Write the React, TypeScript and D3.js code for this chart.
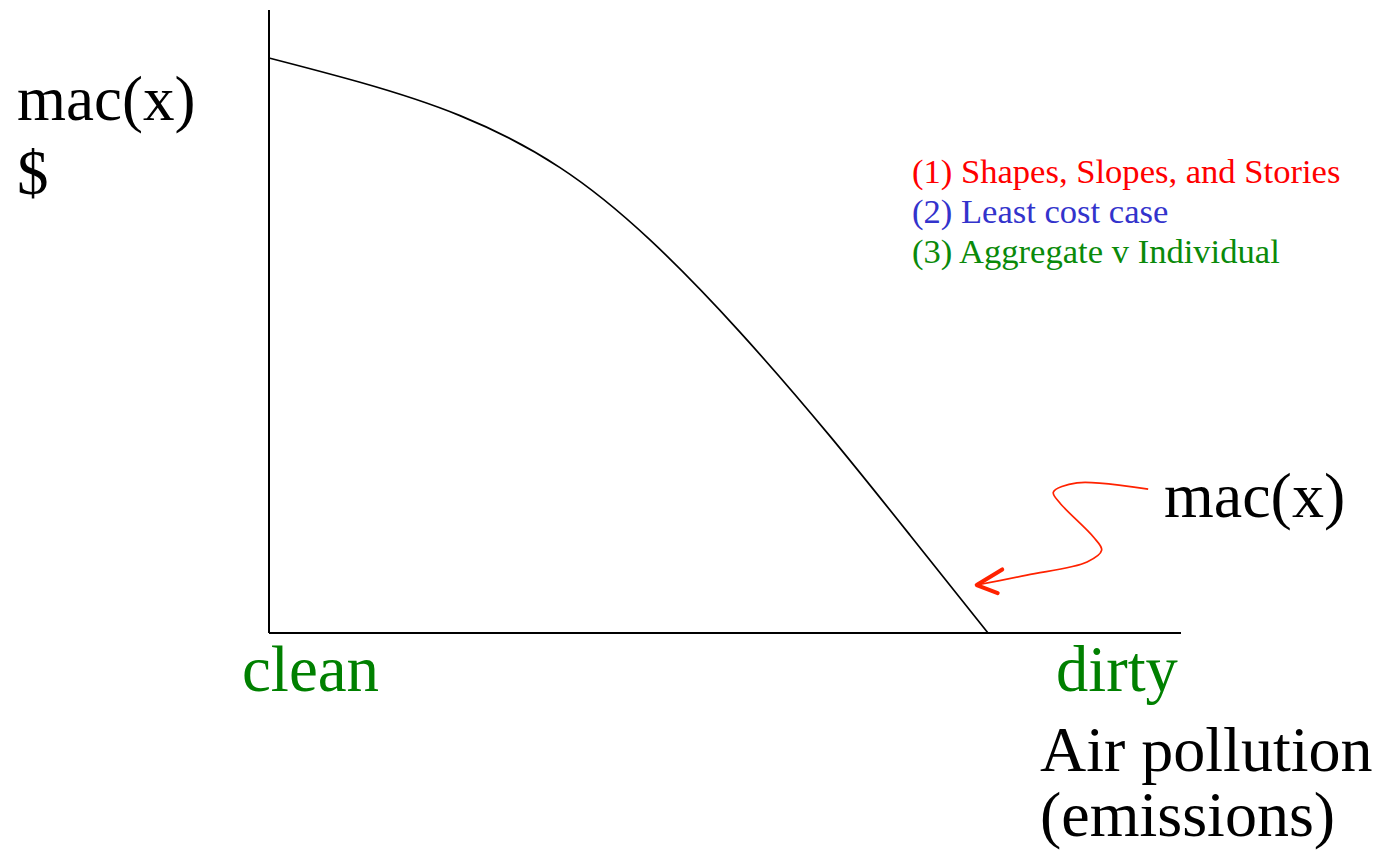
import React from "react";
import * as d3 from "d3";

// Marginal abatement cost curve (abstract units: emissions 0..100, $ 0..100)
const macX = [0, 9.98, 20.94, 31.91, 41.78, 51.64, 61.51, 70.29, 78.84];
const macY = [92.3, 88.4, 83.05, 74.7, 63.1, 48.3, 31.6, 15.7, 0];

// Annotation arrow pointing at the curve
const arrowX = [96.4, 88.6, 86.0, 86.7, 90.4, 91.3, 89.7, 83.1, 77.6];
const arrowY = [23.1, 24.1, 22.6, 20.9, 15.4, 13.3, 11.4, 9.3, 7.7];
const arrowHeadX = [80.4, 77.6, 79.9];
const arrowHeadY = [10.2, 7.7, 6.4];

const legendItems = [
  "(1) Shapes, Slopes, and Stories",
  "(2) Least cost case",
  "(3) Aggregate v Individual",
];
const legendColors = ["#ff0000", "#3333cc", "#0a8a0a"];

const W = 1381;
const H = 862;
const FONT = "'Liberation Serif', 'Times New Roman', serif";

export default function App() {
  const x = d3.scaleLinear().domain([0, 100]).range([269, 1181]);
  const y = d3.scaleLinear().domain([0, 100]).range([633, 10]);

  const macPts: [number, number][] = macX.map((v, i) => [v, macY[i]]);
  const arrowPts: [number, number][] = arrowX.map((v, i) => [v, arrowY[i]]);
  const headPts: [number, number][] = arrowHeadX.map((v, i) => [v, arrowHeadY[i]]);

  const curveLine = d3
    .line<[number, number]>()
    .x((d) => x(d[0]))
    .y((d) => y(d[1]))
    .curve(d3.curveNatural);
  const squiggle = d3
    .line<[number, number]>()
    .x((d) => x(d[0]))
    .y((d) => y(d[1]))
    .curve(d3.curveCatmullRom.alpha(0.5));
  const straight = d3
    .line<[number, number]>()
    .x((d) => x(d[0]))
    .y((d) => y(d[1]));

  return (
    <svg
      width={W}
      height={H}
      style={{ position: "fixed", left: 0, top: 0, background: "#fff" }}
      fontFamily={FONT}
    >
      {/* axes */}
      <line x1={x(0)} x2={x(0)} y1={y(100)} y2={y(0)} stroke="#000" strokeWidth={2} />
      <line x1={x(0)} x2={x(100)} y1={y(0)} y2={y(0)} stroke="#000" strokeWidth={2.2} />

      {/* mac curve */}
      <path d={curveLine(macPts) || ""} fill="none" stroke="#000" strokeWidth={1.7} />

      {/* annotation arrow */}
      <path d={squiggle(arrowPts) || ""} fill="none" stroke="#ff2200" strokeWidth={1.7} />
      <path
        d={straight(headPts) || ""}
        fill="none"
        stroke="#ff2200"
        strokeWidth={4}
        strokeLinecap="round"
        strokeLinejoin="round"
      />

      {/* y-axis label */}
      <text x={17} y={120} fontSize={63} fill="#000">mac(x)</text>
      <text x={17} y={194} fontSize={63} fill="#000">$</text>

      {/* curve label */}
      <text x={1164} y={517} fontSize={64} fill="#000">mac(x)</text>

      {/* x-axis end labels */}
      <text x={242} y={691} fontSize={65} fill="#008000">clean</text>
      <text x={1056} y={691} fontSize={64.5} fill="#008000">dirty</text>
      <text x={1040} y={771} fontSize={64} fill="#000">Air pollution</text>
      <text x={1040} y={836} fontSize={64} fill="#000">(emissions)</text>

      {/* legend */}
      {legendItems.map((t, i) => (
        <text key={t} x={912} y={183 + i * 40} fontSize={34.6} fill={legendColors[i]}>
          {t}
        </text>
      ))}
    </svg>
  );
}
